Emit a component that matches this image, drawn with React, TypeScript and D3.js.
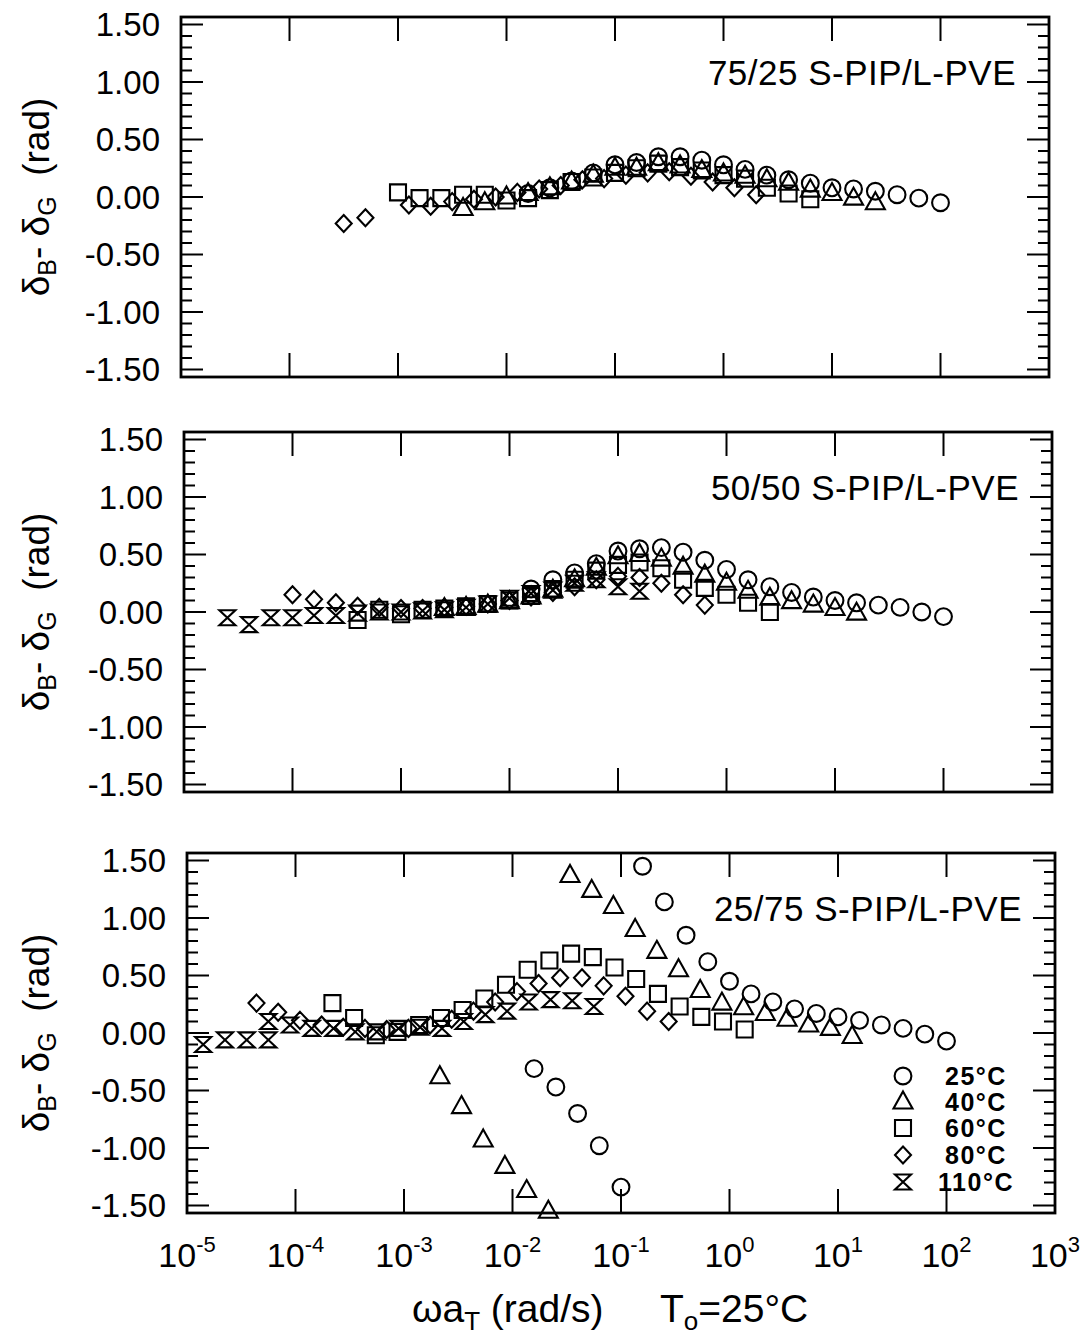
import React from 'react';
import * as d3 from 'd3';

const FONT = '"Liberation Sans", Arial, Helvetica, sans-serif';

// ---------------- data (x = ωaT in rad/s, y = δB − δG in rad) ----------------
// Panel 1: 75/25 S-PIP/L-PVE
const p1x25 = [0.0158, 0.0251, 0.0398, 0.0631, 0.1, 0.158, 0.251, 0.398, 0.631, 1, 1.58, 2.51, 3.98, 6.31, 10, 15.8, 25.1, 39.8, 63.1, 100];
const p1y25 = [0.03, 0.08, 0.14, 0.21, 0.28, 0.3, 0.35, 0.35, 0.32, 0.28, 0.24, 0.19, 0.15, 0.12, 0.08, 0.07, 0.05, 0.02, -0.01, -0.05];
const p1x40 = [0.00398, 0.00631, 0.01, 0.0158, 0.0251, 0.0398, 0.0631, 0.1, 0.158, 0.251, 0.398, 0.631, 1, 1.58, 2.51, 3.98, 6.31, 10, 15.8, 25.1];
const p1y40 = [-0.1, -0.05, 0.0, 0.03, 0.08, 0.13, 0.19, 0.25, 0.25, 0.29, 0.27, 0.23, 0.2, 0.18, 0.15, 0.12, 0.06, 0.03, -0.01, -0.05];
const p1x60 = [0.001, 0.00158, 0.00251, 0.00398, 0.00631, 0.01, 0.0158, 0.0251, 0.0398, 0.0631, 0.1, 0.158, 0.251, 0.398, 0.631, 1, 1.58, 2.51, 3.98, 6.31];
const p1y60 = [0.04, -0.01, -0.01, 0.02, 0.02, -0.03, -0.01, 0.06, 0.13, 0.17, 0.21, 0.25, 0.29, 0.26, 0.23, 0.19, 0.16, 0.08, 0.03, -0.02];
const p1x80 = [0.000316, 0.000501, 0.00126, 0.002, 0.00316, 0.00501, 0.00794, 0.0126, 0.02, 0.0316, 0.0501, 0.0794, 0.126, 0.2, 0.316, 0.501, 0.794, 1.26, 2.0];
const p1y80 = [-0.23, -0.18, -0.07, -0.08, -0.04, -0.02, 0.0, 0.04, 0.07, 0.1, 0.15, 0.16, 0.19, 0.21, 0.22, 0.18, 0.13, 0.08, 0.02];

// Panel 2: 50/50 S-PIP/L-PVE
const p2x25 = [0.0158, 0.0251, 0.0398, 0.0631, 0.1, 0.158, 0.251, 0.398, 0.631, 1, 1.58, 2.51, 3.98, 6.31, 10, 15.8, 25.1, 39.8, 63.1, 100];
const p2y25 = [0.2, 0.28, 0.34, 0.42, 0.53, 0.55, 0.56, 0.52, 0.45, 0.37, 0.28, 0.22, 0.17, 0.13, 0.1, 0.08, 0.06, 0.04, 0.0, -0.04];
const p2x40 = [0.00251, 0.00398, 0.00631, 0.01, 0.0158, 0.0251, 0.0398, 0.0631, 0.1, 0.158, 0.251, 0.398, 0.631, 1, 1.58, 2.51, 3.98, 6.31, 10, 15.8];
const p2y40 = [0.03, 0.04, 0.06, 0.09, 0.13, 0.19, 0.28, 0.38, 0.48, 0.5, 0.46, 0.39, 0.32, 0.25, 0.18, 0.12, 0.09, 0.06, 0.03, -0.01];
const p2x60 = [0.000398, 0.000631, 0.001, 0.00158, 0.00251, 0.00398, 0.00631, 0.01, 0.0158, 0.0251, 0.0398, 0.0631, 0.1, 0.158, 0.251, 0.398, 0.631, 1, 1.58, 2.51];
const p2y60 = [-0.07, 0.02, -0.02, 0.02, 0.03, 0.05, 0.07, 0.1, 0.14, 0.2, 0.28, 0.36, 0.41, 0.43, 0.38, 0.28, 0.21, 0.15, 0.08, 0.0];
const p2x80 = [0.0001, 0.000158, 0.000251, 0.000398, 0.000631, 0.001, 0.00158, 0.00251, 0.00398, 0.00631, 0.01, 0.0158, 0.0251, 0.0398, 0.0631, 0.1, 0.158, 0.251, 0.398, 0.631];
const p2y80 = [0.15, 0.11, 0.08, 0.05, 0.04, 0.03, 0.03, 0.04, 0.05, 0.07, 0.1, 0.13, 0.17, 0.22, 0.28, 0.31, 0.3, 0.25, 0.15, 0.06];
const p2x110 = [0.0000251, 0.0000398, 0.0000631, 0.0001, 0.000158, 0.000251, 0.000398, 0.000631, 0.001, 0.00158, 0.00251, 0.00398, 0.00631, 0.01, 0.0158, 0.0251, 0.0398, 0.0631, 0.1, 0.158];
const p2y110 = [-0.05, -0.11, -0.05, -0.05, -0.03, -0.03, -0.01, 0.0, 0.0, 0.01, 0.02, 0.04, 0.07, 0.12, 0.16, 0.19, 0.25, 0.28, 0.22, 0.18];

// Panel 3: 25/75 S-PIP/L-PVE
const p3x25 = [0.0158, 0.0251, 0.0398, 0.0631, 0.1, 0.158, 0.251, 0.398, 0.631, 1, 1.58, 2.51, 3.98, 6.31, 10, 15.8, 25.1, 39.8, 63.1, 100];
const p3y25 = [-0.31, -0.47, -0.7, -0.98, -1.34, 1.45, 1.14, 0.85, 0.62, 0.45, 0.34, 0.27, 0.21, 0.17, 0.14, 0.11, 0.07, 0.04, -0.01, -0.07];
const p3x40 = [0.00214, 0.00339, 0.00537, 0.00851, 0.0135, 0.0214, 0.0339, 0.0537, 0.0851, 0.135, 0.214, 0.339, 0.537, 0.851, 1.35, 2.14, 3.39, 5.37, 8.51, 13.5];
const p3y40 = [-0.38, -0.64, -0.93, -1.16, -1.37, -1.55, 1.37, 1.24, 1.1, 0.9, 0.71, 0.55, 0.37, 0.26, 0.22, 0.17, 0.12, 0.07, 0.04, -0.03];
const p3x60 = [0.000219, 0.000347, 0.00055, 0.000871, 0.00138, 0.00219, 0.00347, 0.0055, 0.00871, 0.0138, 0.0219, 0.0347, 0.055, 0.0871, 0.138, 0.219, 0.347, 0.55, 0.871, 1.38];
const p3y60 = [0.26, 0.13, -0.02, 0.01, 0.07, 0.13, 0.2, 0.3, 0.42, 0.55, 0.63, 0.69, 0.66, 0.57, 0.47, 0.34, 0.23, 0.14, 0.1, 0.03];
const p3x80 = [0.0000437, 0.0000692, 0.00011, 0.000174, 0.000275, 0.000437, 0.000692, 0.0011, 0.00174, 0.00275, 0.00437, 0.00692, 0.011, 0.0174, 0.0275, 0.0437, 0.0692, 0.11, 0.174, 0.275];
const p3y80 = [0.26, 0.18, 0.11, 0.07, 0.05, 0.04, 0.03, 0.04, 0.07, 0.12, 0.19, 0.27, 0.36, 0.43, 0.48, 0.48, 0.41, 0.32, 0.19, 0.1];
const p3x110 = [0.0000141, 0.0000224, 0.0000355, 0.0000562, 0.0000562, 0.0000891, 0.000141, 0.000224, 0.000355, 0.000562, 0.000891, 0.00141, 0.00224, 0.00355, 0.00562, 0.00891, 0.0141, 0.0224, 0.0355, 0.0562];
const p3y110 = [-0.1, -0.06, -0.06, -0.06, 0.1, 0.07, 0.04, 0.04, 0.01, 0.01, 0.04, 0.05, 0.04, 0.1, 0.16, 0.19, 0.27, 0.29, 0.28, 0.23];

// axes / labels
const panelLabels = ['75/25 S-PIP/L-PVE', '50/50 S-PIP/L-PVE', '25/75 S-PIP/L-PVE'];
const yTickValues = [-1.5, -1, -0.5, 0, 0.5, 1, 1.5];
const yTickLabels = ['-1.50', '-1.00', '-0.50', '0.00', '0.50', '1.00', '1.50'];
const xDecades = [1e-5, 1e-4, 1e-3, 1e-2, 1e-1, 1e0, 1e1, 1e2, 1e3];
const xExponents = ['-5', '-4', '-3', '-2', '-1', '0', '1', '2', '3'];
const legendLabels = ['25°C', '40°C', '60°C', '80°C', '110°C'];
type Shape = 'circle' | 'triangle' | 'square' | 'diamond' | 'hourglass';
const legendShapes: Shape[] = ['circle', 'triangle', 'square', 'diamond', 'hourglass'];

// ---------------- layout ----------------
const W = 1086;
const H = 1340;
const PW = 868;
const HALF = 180; // half panel height in px
const PX_PER_UNIT = 115;
const YLIM = HALF / PX_PER_UNIT;
const panelLayout = [
  { left: 181, y0: 197 },
  { left: 184, y0: 612 },
  { left: 187, y0: 1033 },
];

function shapePath(shape: Shape): string {
  const p = d3.path();
  switch (shape) {
    case 'circle':
      p.moveTo(8.4, 0);
      p.arc(0, 0, 8.4, 0, 2 * Math.PI);
      p.closePath();
      break;
    case 'triangle':
      p.moveTo(0, -10.5);
      p.lineTo(9.5, 6.5);
      p.lineTo(-9.5, 6.5);
      p.closePath();
      break;
    case 'square':
      p.rect(-8, -8, 16, 16);
      break;
    case 'diamond':
      p.moveTo(0, -8.5);
      p.lineTo(8, 0);
      p.lineTo(0, 8.5);
      p.lineTo(-8, 0);
      p.closePath();
      break;
    case 'hourglass':
      p.moveTo(-8, -7.5);
      p.lineTo(8, -7.5);
      p.lineTo(-8, 7.5);
      p.lineTo(8, 7.5);
      p.closePath();
      break;
  }
  return p.toString();
}

type Series = { shape: Shape; xs: number[]; ys: number[] };

const panelSeries: Series[][] = [
  [
    { shape: 'circle', xs: p1x25, ys: p1y25 },
    { shape: 'triangle', xs: p1x40, ys: p1y40 },
    { shape: 'square', xs: p1x60, ys: p1y60 },
    { shape: 'diamond', xs: p1x80, ys: p1y80 },
  ],
  [
    { shape: 'circle', xs: p2x25, ys: p2y25 },
    { shape: 'triangle', xs: p2x40, ys: p2y40 },
    { shape: 'square', xs: p2x60, ys: p2y60 },
    { shape: 'diamond', xs: p2x80, ys: p2y80 },
    { shape: 'hourglass', xs: p2x110, ys: p2y110 },
  ],
  [
    { shape: 'circle', xs: p3x25, ys: p3y25 },
    { shape: 'triangle', xs: p3x40, ys: p3y40 },
    { shape: 'square', xs: p3x60, ys: p3y60 },
    { shape: 'diamond', xs: p3x80, ys: p3y80 },
    { shape: 'hourglass', xs: p3x110, ys: p3y110 },
  ],
];

const minorY = d3.range(-15, 16).filter((i) => i % 5 !== 0).map((i) => i / 10);

function Panel({ idx }: { idx: number }) {
  const { left, y0 } = panelLayout[idx];
  const right = left + PW;
  const top = y0 - HALF;
  const bottom = y0 + HALF;
  const x = d3.scaleLog().domain([1e-5, 1e3]).range([left, right]);
  const y = d3.scaleLinear().domain([-YLIM, YLIM]).range([bottom, top]);
  const series = panelSeries[idx];
  const isLast = idx === 2;

  return (
    <g>
      {/* ticks */}
      <g stroke="#000" strokeWidth={2}>
        {yTickValues.map((v) => (
          <g key={'M' + v}>
            <line x1={left} x2={left + 22} y1={y(v)} y2={y(v)} />
            <line x1={right} x2={right - 22} y1={y(v)} y2={y(v)} />
          </g>
        ))}
        {minorY.map((v) => (
          <g key={'m' + v}>
            <line x1={left} x2={left + 11} y1={y(v)} y2={y(v)} />
            <line x1={right} x2={right - 11} y1={y(v)} y2={y(v)} />
          </g>
        ))}
        {xDecades.map((d) => (
          <g key={'x' + d}>
            <line x1={x(d)} x2={x(d)} y1={bottom} y2={bottom - 24} />
            <line x1={x(d)} x2={x(d)} y1={top} y2={top + 24} />
          </g>
        ))}
      </g>
      {/* frame */}
      <rect x={left} y={top} width={PW} height={2 * HALF} fill="none" stroke="#000" strokeWidth={2.8} />

      {/* y tick labels */}
      {yTickValues.map((v, i) => (
        <text key={'yl' + v} x={left - 21} y={y(v)} dy="0.36em" textAnchor="end" fontSize={33} fill="#000">
          {yTickLabels[i]}
        </text>
      ))}

      {/* y axis title */}
      <text transform={`translate(49,${y0}) rotate(-90)`} textAnchor="middle" fontSize={37} fill="#000">
        <tspan>δ</tspan>
        <tspan fontSize={25} dy={7}>B</tspan>
        <tspan dy={-7}>{'- δ'}</tspan>
        <tspan fontSize={25} dy={7}>G</tspan>
        <tspan dy={-7}>{'\u00A0\u00A0(rad)'}</tspan>
      </text>

      {/* panel label */}
      <text x={right - 33} y={top + 68} textAnchor="end" fontSize={35} letterSpacing={0.5} fill="#000">
        {panelLabels[idx]}
      </text>

      {/* data */}
      {series.map((s, si) => {
        const d = shapePath(s.shape);
        return (
          <g key={si} fill="none" stroke="#000" strokeWidth={2.1}>
            {s.xs.map((xv, k) => (
              <path key={k} d={d} transform={`translate(${x(xv)},${y(s.ys[k])})`} />
            ))}
          </g>
        );
      })}

      {isLast && (
        <g>
          {xDecades.map((d, i) => (
            <text key={'xl' + d} x={x(d)} y={1267} textAnchor="middle" fontSize={34} fill="#000">
              <tspan>10</tspan>
              <tspan fontSize={22} dy={-15}>{xExponents[i]}</tspan>
            </text>
          ))}
          {legendLabels.map((lab, i) => {
            const ly = [1076, 1102, 1128, 1155, 1182][i];
            return (
              <g key={lab}>
                <path d={shapePath(legendShapes[i])} transform={`translate(903,${ly})`} fill="none" stroke="#000" strokeWidth={2.1} />
                <text x={976} y={ly} dy="0.36em" textAnchor="middle" fontSize={25} fontWeight="bold" letterSpacing={1.5} fill="#000">
                  {lab}
                </text>
              </g>
            );
          })}
        </g>
      )}
    </g>
  );
}

export default function App() {
  return (
    <svg
      width={W}
      height={H}
      viewBox={`0 0 ${W} ${H}`}
      style={{ position: 'absolute', left: 0, top: 0, background: '#fff' }}
      fontFamily={FONT}
    >
      <rect x={0} y={0} width={W} height={H} fill="#fff" />
      {panelLayout.map((_, i) => (
        <Panel key={i} idx={i} />
      ))}
      <text x={412} y={1322} fontSize={39} fill="#000">
        <tspan>ωa</tspan>
        <tspan fontSize={26} dy={8}>T</tspan>
        <tspan dy={-8}>{' (rad/s)'}</tspan>
      </text>
      <text x={660} y={1322} fontSize={39} fill="#000">
        <tspan>T</tspan>
        <tspan fontSize={26} dy={8}>o</tspan>
        <tspan dy={-8}>=25°C</tspan>
      </text>
    </svg>
  );
}
